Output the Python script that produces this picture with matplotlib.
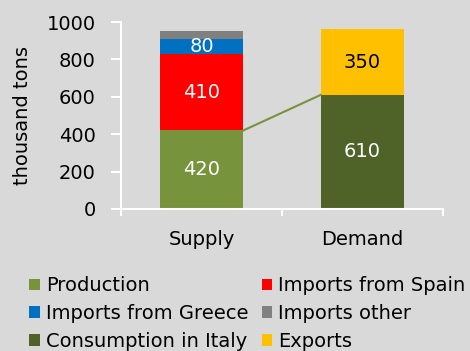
import matplotlib

matplotlib.use("Agg")
import matplotlib.pyplot as plt
from matplotlib.patches import Patch

categories = ["Supply", "Demand"]
production = [420, 0]
imports_spain = [410, 0]
imports_greece = [80, 0]
imports_other = [40, 0]
consumption = [0, 610]
exports = [0, 350]

series = [
    ("Production", production, "#77933C", "white"),
    ("Imports from Spain", imports_spain, "#FF0000", "white"),
    ("Imports from Greece", imports_greece, "#0070C0", "white"),
    ("Imports other", imports_other, "#808080", None),
    ("Consumption in Italy", consumption, "#4F6228", "white"),
    ("Exports", exports, "#FFC000", "black"),
]

bg = "#D9D9D9"
fs = 14
plt.rcParams["font.family"] = "DejaVu Sans"

fig = plt.figure(figsize=(4.7, 3.51), dpi=100, facecolor=bg)
ax = fig.add_axes([0.2574, 0.4046, 0.6852, 0.5327], facecolor=bg)

x = range(len(categories))
width = 0.52
bottom = [0, 0]
for name, vals, color, tcol in series:
    ax.bar(x, vals, width, bottom=bottom, color=color, label=name)
    for i, v in enumerate(vals):
        if v and tcol:
            ax.text(i, bottom[i] + v / 2, f"{v}", ha="center", va="center",
                    color=tcol, fontsize=fs)
    bottom = [b + v for b, v in zip(bottom, vals)]

# series line linking production to domestic consumption
ax.plot([width / 2, 1 - width / 2], [production[0], consumption[1]],
        color="#77933C", lw=1.5, zorder=3)

ax.set_xlim(-0.5, 1.5)
ax.set_ylim(0, 1000)
ax.set_yticks(range(0, 1001, 200))
ax.set_xticks(list(x))
ax.set_xticklabels(categories, fontsize=fs)
ax.set_xticks([-0.5, 0.5, 1.5], minor=True)
ax.tick_params(axis="x", which="major", length=0, pad=15)
ax.tick_params(axis="x", which="minor", length=5, width=1.5, color="white",
               direction="out")
ax.tick_params(axis="y", length=7, width=1.5, color="white", labelsize=fs,
               pad=11)
for s in ("top", "right"):
    ax.spines[s].set_visible(False)
for s in ("left", "bottom"):
    ax.spines[s].set_color("white")
    ax.spines[s].set_linewidth(1.5)
ax.set_ylabel("thousand tons", fontsize=fs, labelpad=11)

handles = [Patch(facecolor=c, edgecolor="none") for _, _, c, _ in series]
labels = [n for n, _, _, _ in series]
# row-major ordering across the two columns
order = [0, 2, 4, 1, 3, 5]
fig.legend([handles[i] for i in order], [labels[i] for i in order],
           loc="upper left", bbox_to_anchor=(0.062, 0.213), ncol=2,
           frameon=False, fontsize=fs, handlelength=0.55, handleheight=0.55,
           handletextpad=0.3, columnspacing=0.7, labelspacing=0.46,
           borderaxespad=0, borderpad=0)

fig.savefig("out.png", dpi=100, facecolor=bg)
